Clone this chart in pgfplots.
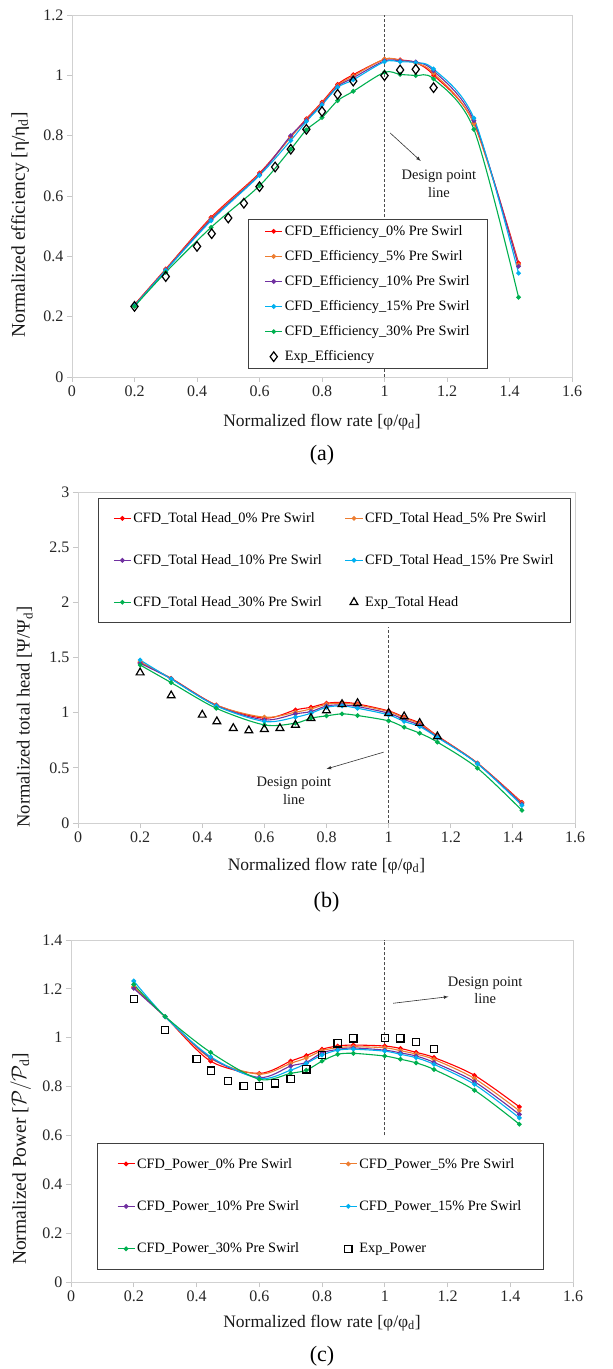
\documentclass[border=0pt]{standalone}
\usepackage{pgfplots}
\pgfplotsset{compat=1.18}
\usepackage{fontspec}
\setmainfont{Liberation Serif}
\definecolor{cred}{RGB}{255,0,0}
\definecolor{corange}{RGB}{237,125,49}
\definecolor{cpurple}{RGB}{112,48,160}
\definecolor{cblue}{RGB}{0,176,240}
\definecolor{cgreen}{RGB}{0,176,80}
\pgfplotsset{
  myaxis/.style={
    scale only axis, clip=false,
    xmin=0, xmax=1.6,
    xtick={0,0.2,0.4,0.6,0.8,1,1.2,1.4,1.6},
    axis line style={draw=black!18, line width=0.8pt},
    major tick style={draw=black!22, line width=0.8pt},
    major tick length=5pt,
    tick align=outside,
    tick pos=left,
    /pgf/number format/assume math mode=true,
    ticklabel style={font=\fontsize{16}{18}\selectfont, text=black!85},
    label style={font=\fontsize{17.5}{20}\selectfont, text=black!90},
    legend cell align=left,
    legend style={draw=black!75, line width=0.8pt, fill=white,
      font=\fontsize{14.3}{16}\selectfont},
  },
  cfd/.style={smooth, line width=1.1pt, mark=*, mark size=1.8pt},
  exp/.style={only marks, black, line width=1.2pt, mark options={fill=none, solid}},
  dline/.style={densely dashed, black!70, line width=0.6pt, forget plot},
}
\begin{document}
\begin{tikzpicture}
\useasboundingbox (0,0) rectangle (613pt,1369pt);
% ---------------- (a)
\begin{axis}[myaxis,
  at={(72pt,992pt)}, anchor=south west, width=500pt, height=362pt,
  ymin=0, ymax=1.2, ytick={0,0.2,0.4,0.6,0.8,1,1.2},
  xlabel={Normalized flow rate [φ/φ\textsubscript{d}]},
  ylabel={Normalized efficiency [η/η\textsubscript{d}]},
  xlabel style={at={(axis description cs:0.5,-0.124)}, anchor=center},
  ylabel style={at={(axis description cs:-0.104,0.42)}, anchor=center, font=\fontsize{19.5}{22}\selectfont},
  legend style={at={(axis description cs:0.3525,0.436)}, anchor=north west, row sep=9.5pt,
    inner xsep=16pt, inner ysep=4pt},
]
\addplot[dline] coordinates {(1,0) (1,1.2)};
\addplot[cfd, color=cred] coordinates {(0.2,0.240)(0.3,0.358)(0.445,0.529)(0.6,0.676)(0.7,0.797)(0.75,0.856)(0.8,0.911)(0.85,0.970)(0.9,1.002)(1.0,1.053)(1.05,1.051)(1.1,1.042)(1.157,1.001)(1.286,0.841)(1.429,0.378)};
\addlegendentry{CFD\_Efficiency\_0\% Pre Swirl}
\addplot[cfd, color=corange] coordinates {(0.2,0.238)(0.3,0.356)(0.445,0.525)(0.6,0.673)(0.7,0.795)(0.75,0.853)(0.8,0.908)(0.85,0.966)(0.9,0.998)(1.0,1.054)(1.05,1.050)(1.1,1.041)(1.157,1.007)(1.286,0.840)(1.429,0.372)};
\addlegendentry{CFD\_Efficiency\_5\% Pre Swirl}
\addplot[cfd, color=cpurple] coordinates {(0.2,0.237)(0.3,0.355)(0.445,0.522)(0.6,0.671)(0.7,0.800)(0.75,0.851)(0.8,0.905)(0.85,0.963)(0.9,0.992)(1.0,1.048)(1.05,1.048)(1.1,1.044)(1.157,1.015)(1.286,0.850)(1.429,0.367)};
\addlegendentry{CFD\_Efficiency\_10\% Pre Swirl}
\addplot[cfd, color=cblue] coordinates {(0.2,0.236)(0.3,0.353)(0.445,0.518)(0.6,0.668)(0.7,0.784)(0.75,0.847)(0.8,0.902)(0.85,0.960)(0.9,0.985)(1.0,1.045)(1.05,1.045)(1.1,1.042)(1.157,1.021)(1.286,0.858)(1.429,0.344)};
\addlegendentry{CFD\_Efficiency\_15\% Pre Swirl}
\addplot[cfd, color=cgreen] coordinates {(0.2,0.234)(0.3,0.347)(0.445,0.496)(0.6,0.634)(0.7,0.755)(0.75,0.819)(0.8,0.860)(0.85,0.916)(0.9,0.947)(1.0,1.010)(1.05,1.003)(1.1,0.999)(1.157,0.988)(1.286,0.821)(1.429,0.264)};
\addlegendentry{CFD\_Efficiency\_30\% Pre Swirl}
\addplot[exp, mark=diamond, mark size=4.8pt] coordinates {(0.2,0.234)(0.3,0.333)(0.4,0.433)(0.447,0.475)(0.5,0.527)(0.55,0.576)(0.6,0.631)(0.65,0.696)(0.7,0.755)(0.75,0.821)(0.8,0.880)(0.85,0.937)(0.9,0.981)(1.0,0.999)(1.05,1.018)(1.1,1.020)(1.157,0.959)};
\addlegendentry{Exp\_Efficiency}
\draw[-latex, black!80, line width=0.6pt] (axis cs:1.018,0.809) -- (axis cs:1.116,0.716);
\node[align=center, font=\fontsize{14.5}{17.5}\selectfont, text=black!90] at (axis cs:1.174,0.64) {Design point\\line};
\node[font=\fontsize{22}{25}\selectfont] at (axis description cs:0.5,-0.215) {(a)};
\end{axis}
% ---------------- (b)
\begin{axis}[myaxis,
  at={(78pt,546pt)}, anchor=south west, width=497pt, height=331pt,
  ymin=0, ymax=3, ytick={0,0.5,1,1.5,2,2.5,3},
  xlabel={Normalized flow rate [φ/φ\textsubscript{d}]},
  ylabel={Normalized total head [Ψ/Ψ\textsubscript{d}]},
  xlabel style={at={(axis description cs:0.5,-0.13)}, anchor=center},
  ylabel style={at={(axis description cs:-0.107,0.32)}, anchor=center, font=\fontsize{18.5}{21}\selectfont},
  legend columns=2,
  legend style={at={(axis description cs:0.04,0.981)}, anchor=north west, row sep=26.5pt,
    inner xsep=15pt, inner ysep=12pt,
    /tikz/every even column/.append style={column sep=21pt}},
]
\addplot[dline] coordinates {(1,0) (1,1.78)};
\addplot[cfd, color=cred] coordinates {(0.2,1.456)(0.3,1.311)(0.445,1.070)(0.6,0.950)(0.7,1.025)(0.75,1.049)(0.8,1.085)(0.85,1.094)(0.9,1.079)(1.0,1.016)(1.05,0.959)(1.1,0.905)(1.157,0.790)(1.286,0.543)(1.429,0.187)};
\addlegendentry{CFD\_Total Head\_0\% Pre Swirl}
\addplot[cfd, color=corange] coordinates {(0.2,1.460)(0.3,1.309)(0.445,1.068)(0.6,0.959)(0.7,1.004)(0.75,1.034)(0.8,1.076)(0.85,1.085)(0.9,1.070)(1.0,1.010)(1.05,0.952)(1.1,0.897)(1.157,0.786)(1.286,0.541)(1.429,0.180)};
\addlegendentry{CFD\_Total Head\_5\% Pre Swirl}
\addplot[cfd, color=cpurple] coordinates {(0.2,1.447)(0.3,1.307)(0.445,1.064)(0.6,0.935)(0.7,0.989)(0.75,1.010)(0.8,1.061)(0.85,1.070)(0.9,1.055)(1.0,0.995)(1.05,0.937)(1.1,0.885)(1.157,0.780)(1.286,0.539)(1.429,0.172)};
\addlegendentry{CFD\_Total Head\_10\% Pre Swirl}
\addplot[cfd, color=cblue] coordinates {(0.2,1.477)(0.3,1.305)(0.445,1.061)(0.6,0.920)(0.7,0.959)(0.75,0.995)(0.8,1.049)(0.85,1.061)(0.9,1.040)(1.0,0.980)(1.05,0.920)(1.1,0.874)(1.157,0.775)(1.286,0.537)(1.429,0.160)};
\addlegendentry{CFD\_Total Head\_15\% Pre Swirl}
\addplot[cfd, color=cgreen] coordinates {(0.2,1.432)(0.3,1.272)(0.445,1.040)(0.6,0.889)(0.7,0.905)(0.75,0.950)(0.8,0.971)(0.85,0.989)(0.9,0.974)(1.0,0.926)(1.05,0.868)(1.1,0.814)(1.157,0.733)(1.286,0.497)(1.429,0.115)};
\addlegendentry{CFD\_Total Head\_30\% Pre Swirl}
\addplot[exp, mark=triangle, mark size=4.5pt] coordinates {(0.2,1.363)(0.3,1.155)(0.4,0.980)(0.447,0.920)(0.5,0.859)(0.55,0.838)(0.6,0.850)(0.65,0.859)(0.7,0.889)(0.75,0.950)(0.8,1.019)(0.85,1.076)(0.9,1.085)(1.0,0.995)(1.05,0.965)(1.1,0.905)(1.157,0.784)};
\addlegendentry{Exp\_Total Head}
\draw[-latex, black!80, line width=0.6pt] (axis cs:0.984,0.642) -- (axis cs:0.80,0.49);
\node[align=center, font=\fontsize{14.5}{17.5}\selectfont, text=black!90] at (axis cs:0.695,0.29) {Design point\\line};
\node[font=\fontsize{22}{25}\selectfont] at (axis description cs:0.5,-0.238) {(b)};
\end{axis}
% ---------------- (c)
\begin{axis}[myaxis,
  at={(71pt,87pt)}, anchor=south west, width=502pt, height=342pt,
  ymin=0, ymax=1.4, ytick={0,0.2,0.4,0.6,0.8,1,1.2,1.4},
  xlabel={Normalized flow rate [φ/φ\textsubscript{d}]},
  ylabel={Normalized Power [$\mathcal{P}/\mathcal{P}_{\mathrm{d}}$]},
  xlabel style={at={(axis description cs:0.5,-0.12)}, anchor=center},
  ylabel style={at={(axis description cs:-0.1,0.36)}, anchor=center, font=\fontsize{19.5}{22}\selectfont},
  legend columns=2,
  legend style={at={(axis description cs:0.051,0.407)}, anchor=north west, row sep=27pt,
    inner xsep=20pt, inner ysep=13pt,
    /tikz/every even column/.append style={column sep=38pt}},
]
\addplot[dline] coordinates {(1,0.6) (1,1.4)};
\addplot[cfd, color=cred] coordinates {(0.2,1.206)(0.3,1.086)(0.445,0.904)(0.6,0.854)(0.7,0.904)(0.75,0.927)(0.8,0.953)(0.85,0.966)(0.9,0.970)(1.0,0.966)(1.05,0.956)(1.1,0.940)(1.157,0.919)(1.286,0.846)(1.429,0.717)};
\addlegendentry{CFD\_Power\_0\% Pre Swirl}
\addplot[cfd, color=corange] coordinates {(0.2,1.210)(0.3,1.086)(0.445,0.915)(0.6,0.851)(0.7,0.895)(0.75,0.917)(0.8,0.947)(0.85,0.959)(0.9,0.963)(1.0,0.959)(1.05,0.947)(1.1,0.933)(1.157,0.911)(1.286,0.833)(1.429,0.701)};
\addlegendentry{CFD\_Power\_5\% Pre Swirl}
\addplot[cfd, color=cpurple] coordinates {(0.2,1.202)(0.3,1.086)(0.445,0.918)(0.6,0.837)(0.7,0.884)(0.75,0.899)(0.8,0.938)(0.85,0.952)(0.9,0.958)(1.0,0.949)(1.05,0.938)(1.1,0.925)(1.157,0.899)(1.286,0.820)(1.429,0.686)};
\addlegendentry{CFD\_Power\_10\% Pre Swirl}
\addplot[cfd, color=cblue] coordinates {(0.2,1.232)(0.3,1.086)(0.445,0.922)(0.6,0.833)(0.7,0.867)(0.75,0.895)(0.8,0.929)(0.85,0.949)(0.9,0.953)(1.0,0.945)(1.05,0.932)(1.1,0.918)(1.157,0.891)(1.286,0.809)(1.429,0.672)};
\addlegendentry{CFD\_Power\_15\% Pre Swirl}
\addplot[cfd, color=cgreen] coordinates {(0.2,1.218)(0.3,1.087)(0.445,0.940)(0.6,0.830)(0.7,0.854)(0.75,0.867)(0.8,0.904)(0.85,0.932)(0.9,0.936)(1.0,0.925)(1.05,0.912)(1.1,0.897)(1.157,0.870)(1.286,0.785)(1.429,0.646)};
\addlegendentry{CFD\_Power\_30\% Pre Swirl}
\addplot[exp, mark=square, mark size=3.6pt] coordinates {(0.2,1.158)(0.3,1.031)(0.4,0.914)(0.447,0.865)(0.5,0.822)(0.55,0.802)(0.6,0.803)(0.65,0.813)(0.7,0.830)(0.75,0.870)(0.8,0.929)(0.85,0.977)(0.9,0.997)(1.0,1.000)(1.05,0.997)(1.1,0.983)(1.157,0.953)};
\addlegendentry{Exp\_Power}
\draw[-latex, black!80, line width=0.6pt] (axis cs:1.027,1.141) -- (axis cs:1.203,1.168);
\node[align=center, font=\fontsize{14.5}{17.5}\selectfont, text=black!90] at (axis cs:1.32,1.195) {Design point\\line};
\node[font=\fontsize{22}{25}\selectfont] at (axis description cs:0.5,-0.217) {(c)};
\end{axis}
\end{tikzpicture}
\end{document}
